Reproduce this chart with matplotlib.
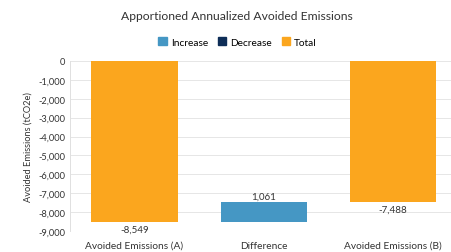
import matplotlib.pyplot as plt
from matplotlib.patches import Patch
from matplotlib.ticker import FuncFormatter

categories = ["Avoided Emissions (A)", "Difference", "Avoided Emissions (B)"]
values = [-8549, 1061, -7488]
kinds = ["total", "increase", "total"]
labels = ["-8,549", "1,061", "-7,488"]

colors = {"increase": "#4597C4", "decrease": "#0E2D57", "total": "#FBA61E"}

plt.rcParams["font.family"] = ["Lato", "DejaVu Sans"]

fig = plt.figure(figsize=(4.51, 2.53), dpi=100)
ax = fig.add_axes([0.155, 0.083, 0.86, 0.672])

# waterfall: totals start at 0, changes start at running total
running = 0
for i, (v, k) in enumerate(zip(values, kinds)):
    if k == "total":
        bottom, h = 0, v
        running = v
    else:
        bottom, h = running, v
        running = running + v
    ax.bar(i, h, bottom=bottom, width=0.67, color=colors[k], zorder=2)
    if k == "total":
        ax.text(i, v - 120, labels[i], ha="center", va="top", fontsize=7, color="#333333")
    else:
        ax.text(i, bottom + h + 100, labels[i], ha="center", va="bottom", fontsize=7, color="#333333")

ax.set_ylim(-9000, 0)
ax.set_xlim(-0.5, 2.5)
ax.set_yticks(range(-9000, 1, 1000))
ax.yaxis.set_major_formatter(FuncFormatter(lambda x, p: f"{int(x):,}"))
ax.set_xticks(range(len(categories)))
ax.set_xticklabels(categories)
ax.tick_params(axis="y", length=0, labelsize=6.7, colors="#333333")
ax.tick_params(axis="x", length=0, labelsize=7.3, colors="#333333", pad=7)
ax.grid(axis="y", color="#e6e6e6", linewidth=0.7, zorder=0)
for s in ["top", "right", "bottom"]:
    ax.spines[s].set_visible(False)
ax.spines["left"].set_color("#e0e0e0")
ax.spines["left"].set_linewidth(0.7)
ax.set_ylabel("Avoided Emissions (tCO2e)", fontsize=6.7, color="#333333")

fig.text(0.525, 0.92, "Apportioned Annualized Avoided Emissions", ha="center", fontsize=8.7, color="#333333")
handles = [Patch(color=colors["increase"], label="Increase"),
           Patch(color=colors["decrease"], label="Decrease"),
           Patch(color=colors["total"], label="Total")]
fig.legend(handles=handles, loc="center", bbox_to_anchor=(0.527, 0.83), ncol=3, frameon=False,
           fontsize=7.3, handlelength=0.8, handleheight=0.8, handletextpad=0.4, columnspacing=1.0)

fig.savefig("out.png", dpi=100, facecolor="white")
